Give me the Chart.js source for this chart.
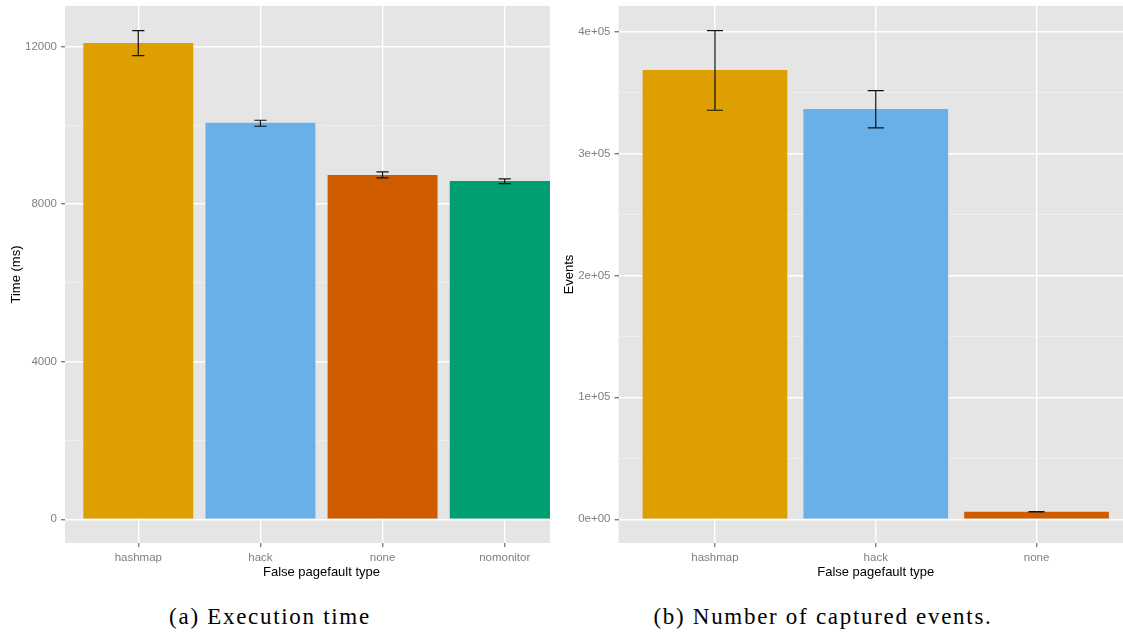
<!DOCTYPE html>
<html>
<head>
<meta charset="utf-8">
<script src="https://cdn.jsdelivr.net/npm/chart.js@4"></script>
<style>
  html, body { margin: 0; padding: 0; background: #fff; }
  body { width: 1123px; height: 633px; position: relative; overflow: hidden; }
  #leftBox { position: absolute; left: 0; top: 0; width: 550px; height: 590px; overflow: hidden; }
  #rightBox { position: absolute; left: 560px; top: 0; width: 563px; height: 590px; overflow: hidden; }
  .caption {
    position: absolute; top: 604px; font-family: "Liberation Serif", "DejaVu Serif", serif;
    font-size: 23px; letter-spacing: 1.7px; color: #000; white-space: nowrap; transform: translateX(-50%);
  }
</style>
</head>
<body>
<div id="leftBox"><canvas id="timeChart"></canvas></div>
<div id="rightBox"><canvas id="eventChart"></canvas></div>
<div class="caption" style="left:270px">(a) Execution time</div>
<div class="caption" style="left:823px">(b) Number of captured events.</div>
<script>
// panel (a): execution time
const timeLabels = ["hashmap", "hack", "none", "nomonitor"];
const timeMeans = [12086, 10065, 8738, 8586];
const timeLow = [11764, 9973, 8662, 8518];
const timeHigh = [12398, 10125, 8814, 8637];
const timeTicks = [0, 2000, 4000, 6000, 8000, 10000, 12000];

// panel (b): captured events
const eventLabels = ["hashmap", "hack", "none"];
const eventMeans = [368400, 336500, 6150];
const eventLow = [335400, 320900, 6000];
const eventHigh = [400700, 351500, 6300];
const eventTicks = [0, 50000, 100000, 150000, 200000, 250000, 300000, 350000, 400000];

const barColors = ["#DEA000", "#6AB0E8", "#CF5D00", "#009E73"];
const SANS = '"Liberation Sans", Arial, sans-serif';

const panelBg = {
  id: "panelBg",
  beforeDraw(chart) {
    const { ctx, chartArea: a } = chart;
    ctx.save();
    ctx.fillStyle = "#E5E5E5";
    ctx.fillRect(a.left, a.top, a.right - a.left, a.bottom - a.top);
    ctx.restore();
  }
};

const errorBars = {
  id: "errorBars",
  afterDatasetsDraw(chart, args, opts) {
    const { ctx } = chart;
    const xs = chart.scales.x, ys = chart.scales.y;
    const half = xs.getPixelForValue(0.05) - xs.getPixelForValue(0);
    ctx.save();
    ctx.strokeStyle = "#111111";
    ctx.lineWidth = 1.2;
    opts.low.forEach((lo, i) => {
      const x = xs.getPixelForValue(i);
      const y1 = ys.getPixelForValue(lo), y2 = ys.getPixelForValue(opts.high[i]);
      ctx.beginPath();
      ctx.moveTo(x, y1); ctx.lineTo(x, y2);
      ctx.moveTo(x - half, y1); ctx.lineTo(x + half, y1);
      ctx.moveTo(x - half, y2); ctx.lineTo(x + half, y2);
      ctx.stroke();
    });
    ctx.restore();
  }
};

function sciLabel(v) {
  if (v === 0) return "0e+00";
  const e = Math.floor(Math.log10(Math.abs(v)));
  const m = Math.round(v / Math.pow(10, e));
  return m + "e+" + String(e).padStart(2, "0");
}

function makeChart(id, cfg) {
  const canvas = document.getElementById(id);
  canvas.width = cfg.width;
  canvas.height = 590;
  canvas.style.width = cfg.width + "px";
  canvas.style.height = "590px";
  const n = cfg.labels.length;
  return new Chart(canvas, {
    type: "bar",
    data: {
      datasets: [{
        data: cfg.means.map((v, i) => ({ x: i, y: v })),
        backgroundColor: barColors.slice(0, n),
        borderWidth: 0,
        categoryPercentage: 0.9,
        barPercentage: 1.0
      }]
    },
    options: {
      responsive: false,
      animation: false,
      layout: { padding: { top: 6, right: 2, bottom: 10, left: 0 } },
      plugins: {
        legend: { display: false },
        tooltip: { enabled: false },
        errorBars: { low: cfg.low, high: cfg.high }
      },
      scales: {
        x: {
          type: "linear",
          offset: false,
          min: -0.6,
          max: n - 1 + 0.6,
          afterBuildTicks: s => { s.ticks = cfg.labels.map((_, i) => ({ value: i })); },
          afterFit: s => { s.height = 37; s.paddingLeft = 0; s.paddingRight = 0; },
          border: { display: false },
          grid: { offset: false, color: "#FFFFFF", lineWidth: 1.4, tickLength: 4, tickColor: "#7F7F7F" },
          ticks: {
            autoSkip: false, maxRotation: 0, padding: 4, color: "#7F7F7F",
            font: { family: SANS, size: 11.5 },
            callback: v => cfg.labels[v] ?? ""
          },
          title: {
            display: true, text: "False pagefault type", color: "#000",
            font: { family: SANS, size: 13 }, padding: { top: 0, bottom: 0 }
          }
        },
        y: {
          min: cfg.yMin,
          max: cfg.yMax,
          afterBuildTicks: s => { s.ticks = cfg.ticks.map(v => ({ value: v })); },
          afterFit: s => { s.width = cfg.yWidth; s.paddingTop = 0; s.paddingBottom = 0; },
          border: { display: false },
          grid: {
            color: c => (c.tick && c.tick.value % cfg.major === 0) ? "#FFFFFF" : "#F2F2F2",
            lineWidth: c => (c.tick && c.tick.value % cfg.major === 0) ? 1.4 : 0.7,
            tickLength: 4,
            tickColor: c => (c.tick && c.tick.value % cfg.major === 0) ? "#7F7F7F" : "rgba(0,0,0,0)"
          },
          ticks: {
            autoSkip: false, padding: 4, color: "#7F7F7F",
            font: { family: SANS, size: 11.5 },
            callback: v => (v % cfg.major === 0) ? cfg.fmt(v) : ""
          },
          title: {
            display: true, text: cfg.yTitle, color: "#000",
            font: { family: SANS, size: 13 }, padding: { top: cfg.titlePad, bottom: 0 }
          }
        }
      }
    },
    plugins: [panelBg, errorBars]
  });
}

makeChart("timeChart", {
  width: 580, labels: timeLabels, means: timeMeans, low: timeLow, high: timeHigh,
  ticks: timeTicks, major: 4000, yMin: -604, yMax: 13025, yWidth: 65,
  yTitle: "Time (ms)", titlePad: 9, fmt: v => String(v)
});

makeChart("eventChart", {
  width: 575, labels: eventLabels, means: eventMeans, low: eventLow, high: eventHigh,
  ticks: eventTicks, major: 100000, yMin: -19500, yMax: 420900, yWidth: 58.5,
  yTitle: "Events", titlePad: 2, fmt: sciLabel
});
</script>
</body>
</html>
